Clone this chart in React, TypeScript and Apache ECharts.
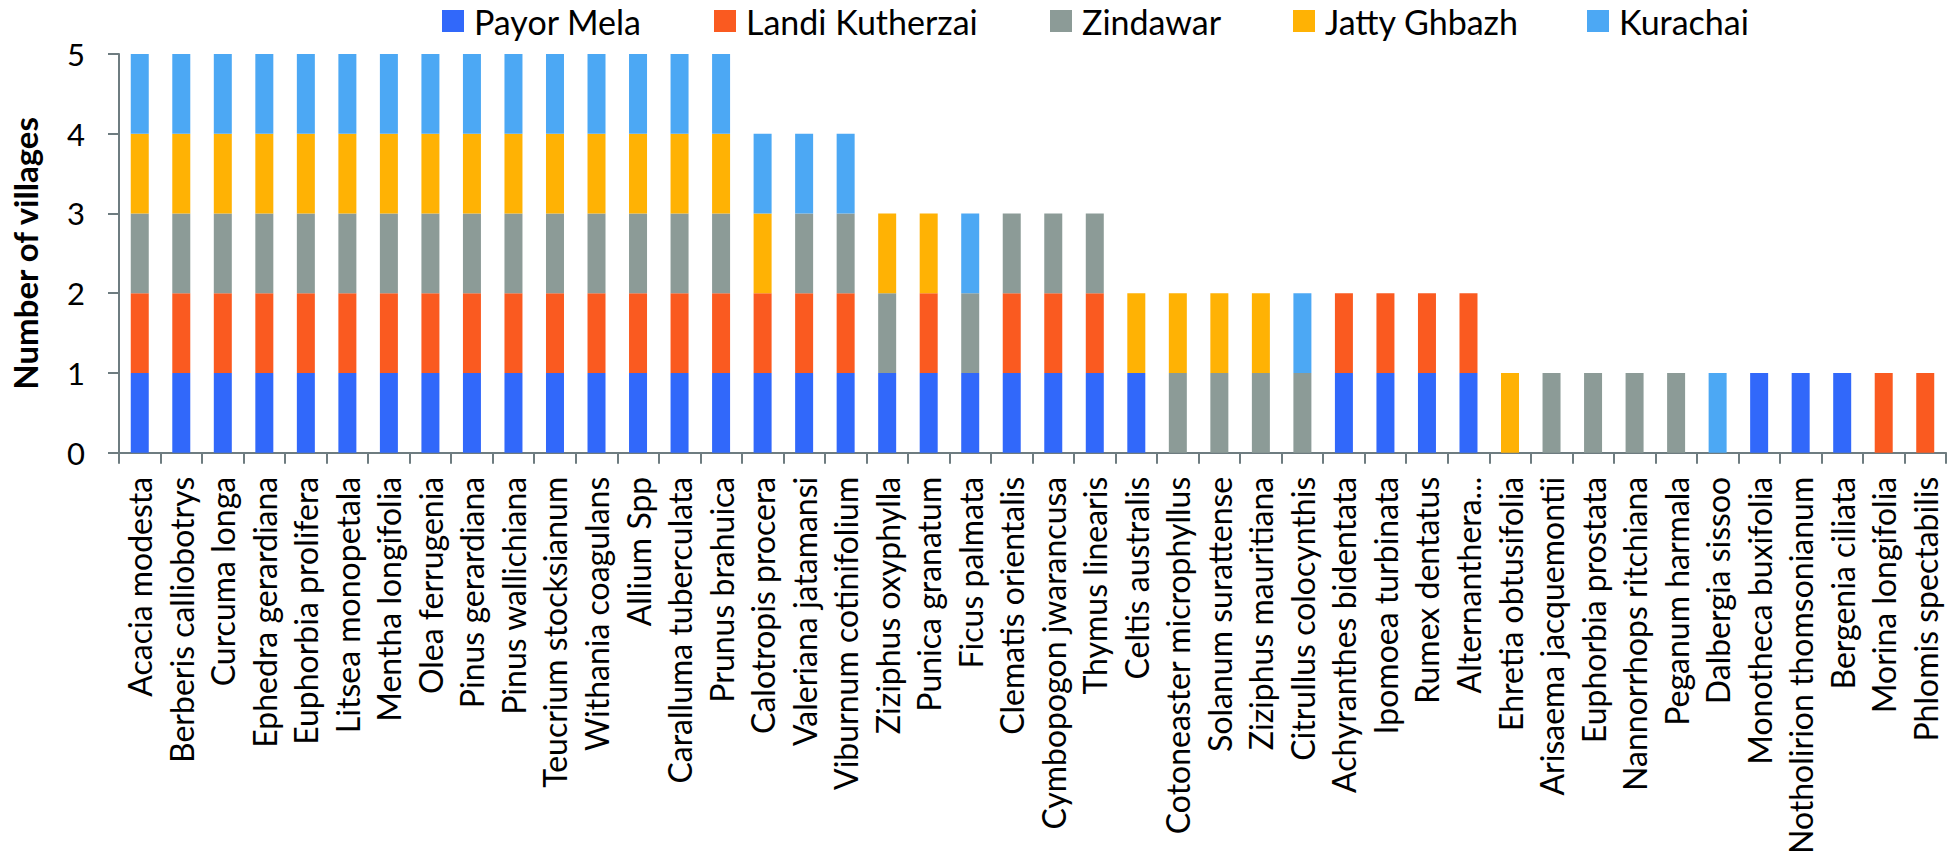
import React, { useEffect, useRef } from "react";
import * as echarts from "echarts";

const categories = [
  "Acacia modesta", "Berberis calliobotrys", "Curcuma longa", "Ephedra gerardiana", "Euphorbia prolifera",
  "Litsea monopetala", "Mentha longifolia", "Olea ferrugenia", "Pinus gerardiana", "Pinus wallichiana",
  "Teucrium stocksianum", "Withania coagulans", "Allium Spp", "Caralluma tuberculata", "Prunus brahuica",
  "Calotropis procera", "Valeriana jatamansi", "Viburnum cotinifolium", "Ziziphus oxyphylla", "Punica granatum",
  "Ficus palmata", "Clematis orientalis", "Cymbopogon jwarancusa", "Thymus linearis", "Celtis australis",
  "Cotoneaster microphyllus", "Solanum surattense", "Ziziphus mauritiana", "Citrullus colocynthis", "Achyranthes bidentata",
  "Ipomoea turbinata", "Rumex dentatus", "Alternanthera...", "Ehretia obtusifolia", "Arisaema jacquemontii",
  "Euphorbia prostata", "Nannorrhops ritchiana", "Peganum harmala", "Dalbergia sissoo", "Monotheca buxifolia",
  "Notholirion thomsonianum", "Bergenia ciliata", "Morina longifolia", "Phlomis spectabilis",
];

const payorMela = [
  1, 1, 1, 1, 1, 1, 1, 1, 1, 1, 1, 1, 1, 1, 1,
  1, 1, 1, 1, 1, 1, 1, 1, 1, 1,
  0, 0, 0, 0, 1, 1, 1, 1,
  0, 0, 0, 0, 0, 0, 1, 1, 1, 0, 0,
];
const landiKutherzai = [
  1, 1, 1, 1, 1, 1, 1, 1, 1, 1, 1, 1, 1, 1, 1,
  1, 1, 1, 0, 1, 0, 1, 1, 1, 0,
  0, 0, 0, 0, 1, 1, 1, 1,
  0, 0, 0, 0, 0, 0, 0, 0, 0, 1, 1,
];
const zindawar = [
  1, 1, 1, 1, 1, 1, 1, 1, 1, 1, 1, 1, 1, 1, 1,
  0, 1, 1, 1, 0, 1, 1, 1, 1, 0,
  1, 1, 1, 1, 0, 0, 0, 0,
  0, 1, 1, 1, 1, 0, 0, 0, 0, 0, 0,
];
const jattyGhbazh = [
  1, 1, 1, 1, 1, 1, 1, 1, 1, 1, 1, 1, 1, 1, 1,
  1, 0, 0, 1, 1, 0, 0, 0, 0, 1,
  1, 1, 1, 0, 0, 0, 0, 0,
  1, 0, 0, 0, 0, 0, 0, 0, 0, 0, 0,
];
const kurachai = [
  1, 1, 1, 1, 1, 1, 1, 1, 1, 1, 1, 1, 1, 1, 1,
  1, 1, 1, 0, 0, 1, 0, 0, 0, 0,
  0, 0, 0, 1, 0, 0, 0, 0,
  0, 0, 0, 0, 0, 1, 0, 0, 0, 0, 0,
];

const seriesNames = ["Payor Mela", "Landi Kutherzai", "Zindawar", "Jatty Ghbazh", "Kurachai"];
const seriesData = [payorMela, landiKutherzai, zindawar, jattyGhbazh, kurachai];
const colors = ["#3168FA", "#FA5A20", "#8C9B97", "#FFB204", "#4CA8F4"];
const yTicks = [0, 1, 2, 3, 4, 5];

const FONT = "Lato";
const legendLefts = [442, 714, 1050, 1293, 1587];

export default function App() {
  const ref = useRef<HTMLDivElement>(null);
  useEffect(() => {
    if (!ref.current) return;
    const chart = echarts.init(ref.current, null, { renderer: "svg" });
    chart.setOption({
      animation: false,
      backgroundColor: "#ffffff",
      color: colors,
      textStyle: { fontFamily: FONT },
      legend: seriesNames.map((n, i) => ({
        data: [n],
        left: legendLefts[i],
        top: 0,
        padding: 0,
        itemWidth: 22,
        itemHeight: 22,
        itemGap: 6,
        icon: "rect",
        textStyle: { fontFamily: FONT, fontSize: 34, lineHeight: 42, color: "#000", padding: [0, 0, 0, 5] },
        selectedMode: false,
      })),
      grid: { left: 98, right: 1, top: 54, bottom: 400, containLabel: false },
      xAxis: {
        type: "category",
        data: categories,
        axisLine: { lineStyle: { color: "#6E7C80", width: 2 } },
        axisTick: { show: true, length: 11, lineStyle: { color: "#6E7C80", width: 2 } },
        axisLabel: {
          interval: 0,
          rotate: 90,
          margin: 24,
          fontFamily: FONT,
          fontSize: 32,
          color: "#000",
        },
      },
      yAxis: {
        type: "value",
        min: 0,
        max: yTicks[yTicks.length - 1],
        interval: 1,
        name: "Number of villages",
        nameLocation: "middle",
        nameGap: 78,
        nameTextStyle: { fontFamily: FONT, fontSize: 33, fontWeight: "bold", color: "#000" },
        axisLine: { show: true, lineStyle: { color: "#6E7C80", width: 2 } },
        axisTick: { show: true, length: 11, lineStyle: { color: "#6E7C80", width: 2 } },
        splitLine: { show: false },
        axisLabel: { margin: 34, fontFamily: FONT, fontSize: 31, color: "#000" },
      },
      series: seriesNames.map((n, i) => ({
        name: n,
        type: "bar",
        stack: "total",
        barWidth: 18,
        data: seriesData[i],
        itemStyle: { color: colors[i] },
      })),
    });
    return () => chart.dispose();
  }, []);
  return (
    <div
      ref={ref}
      style={{ position: "fixed", left: 0, top: 0, width: 1947, height: 857 }}
    />
  );
}
